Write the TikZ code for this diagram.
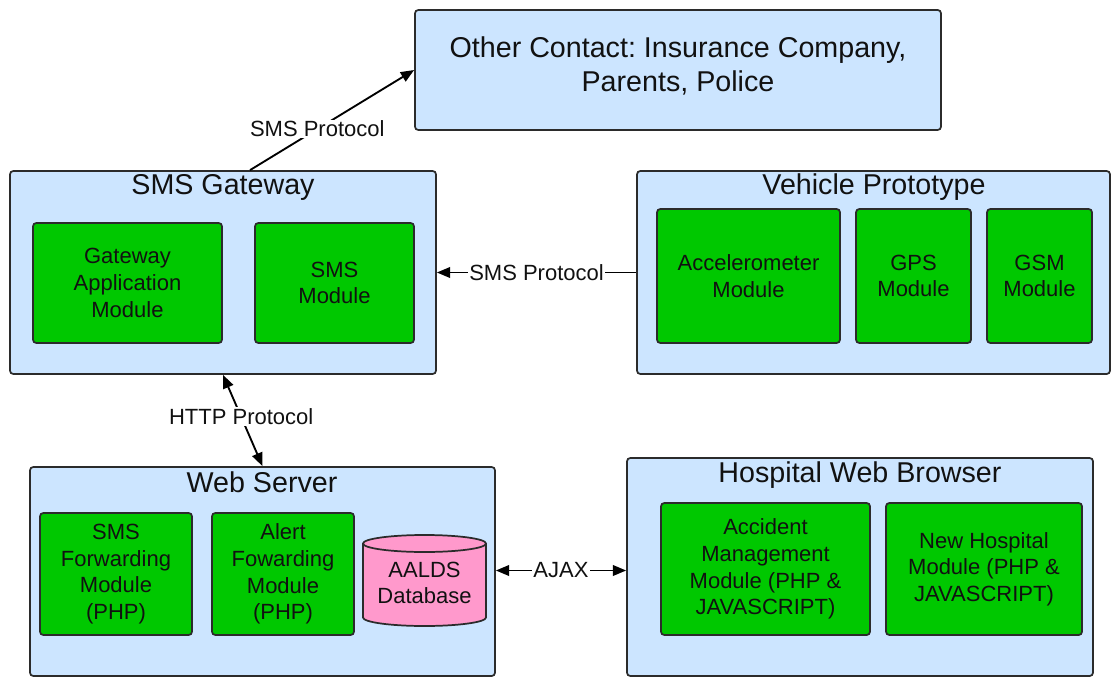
\documentclass[tikz,border=0pt]{standalone}
\usepackage{fontspec}
\setmainfont{Liberation Sans}
\usetikzlibrary{fit,arrows.meta,calc}
\frenchspacing
\definecolor{paneblue}{HTML}{CCE5FF}
\definecolor{modgreen}{HTML}{00C800}
\definecolor{dbpink}{HTML}{FF99CC}
\definecolor{edgegray}{HTML}{2B2B2B}
\definecolor{ink}{HTML}{111111}

\begin{document}
\begin{tikzpicture}[x=0.75pt,y=-0.75pt,
  pane/.style={draw=edgegray, fill=paneblue, line width=1.3pt, rounded corners=2.5pt, inner sep=0pt},
  modtext/.style={align=center, text=ink, font=\fontsize{16.5}{20}\selectfont, inner sep=0pt},
  module/.style={draw=edgegray, fill=modgreen, line width=1.3pt, rounded corners=2.5pt,
    inner sep=0pt, label={[modtext]center:#1}},
  title/.style={text=ink, font=\fontsize{21.5}{26}\selectfont, inner sep=0pt, anchor=base},
  lbl/.style={fill=white, text=ink, font=\fontsize{16.5}{20}\selectfont, inner sep=1pt},
  link/.style={draw=black, line width=1.4pt, -{Triangle[length=10pt,width=8pt]}},
  twoway/.style={draw=black, line width=1.4pt,
    {Triangle[length=10pt,width=8pt]}-{Triangle[length=10pt,width=8pt]}},
  drum/.style={draw=edgegray, fill=dbpink, line width=1.3pt}
]
\useasboundingbox (0,0) rectangle (1112,677);

% external contacts
\node[pane, fit={(415,10) (941,130)}] (oc) {};
\node[title, anchor=center, align=center] (ocT) at (678,66)
  {Other Contact: Insurance Company,\\Parents, Police};

% SMS gateway
\node[pane, fit={(10,171) (436,374)}] (gw) {};
\node[title] (gwT) at (223,195) {SMS Gateway};
\node[module={Gateway\\Application\\Module}, fit={(33,223) (222,343)}] (gam) {};
\node[module={SMS\\Module}, fit={(255,223) (414,343)}] (smsm) {};

% vehicle prototype
\node[pane, fit={(637,171) (1110,374)}] (vp) {};
\node[title] (vpT) at (874,195) {Vehicle Prototype};
\node[module={Accelerometer\\Module}, fit={(657,209) (840,343)}] (acc) {};
\node[module={GPS\\Module}, fit={(856,209) (971,343)}] (gps) {};
\node[module={GSM\\Module}, fit={(987,209) (1092,343)}] (gsm) {};

% web server
\node[pane, fit={(30,467) (495,676)}] (ws) {};
\node[title] (wsT) at (262,492) {Web Server};
\node[module={SMS\\Forwarding\\Module\\(PHP)}, fit={(40,513) (192,635)}] (sfm) {};
\node[module={Alert\\Fowarding\\Module\\(PHP)}, fit={(212,513) (354,635)}] (afm) {};

% database drum: body with rounded bottom, back rim, then front rim
\path[drum] (363,543.5) -- (363,617.5)
  arc[start angle=180, end angle=360, x radius=46.125pt, y radius=6.375pt]
  -- (486,543.5)
  arc[start angle=0, end angle=180, x radius=46.125pt, y radius=6.375pt] -- cycle;
\draw[drum, fill=none] (363,543.5)
  arc[start angle=180, end angle=360, x radius=46.125pt, y radius=6.375pt];
\node[modtext] (dbT) at (424.5,583) {AALDS\\Database};

% hospital browser
\node[pane, fit={(627,458) (1093,676)}] (hb) {};
\node[title] (hbT) at (860,482) {Hospital Web Browser};
\node[module={Accident\\Management\\Module (PHP \&\\JAVASCRIPT)}, fit={(661,503) (870,635)}] (amm) {};
\node[module={New Hospital\\Module (PHP \&\\JAVASCRIPT)}, fit={(886,503) (1082,635)}] (nhm) {};

% connectors
\draw[link] ($(gw.north)+(27,0)$) -- node[lbl, pos=0.41] {SMS Protocol} (oc.west);
\draw[link] (vp.west) -- node[lbl, pos=0.5] {SMS Protocol} (gw.east);
\draw[twoway] (gw.south) -- node[lbl, pos=0.46] {HTTP Protocol} (ws.north);
\coordinate (ajaxL) at ($(ws.east)+(0,-1)$);
\draw[twoway] (ajaxL) -- node[lbl, pos=0.5] {AJAX} (ajaxL -| hb.west);
\end{tikzpicture}
\end{document}
